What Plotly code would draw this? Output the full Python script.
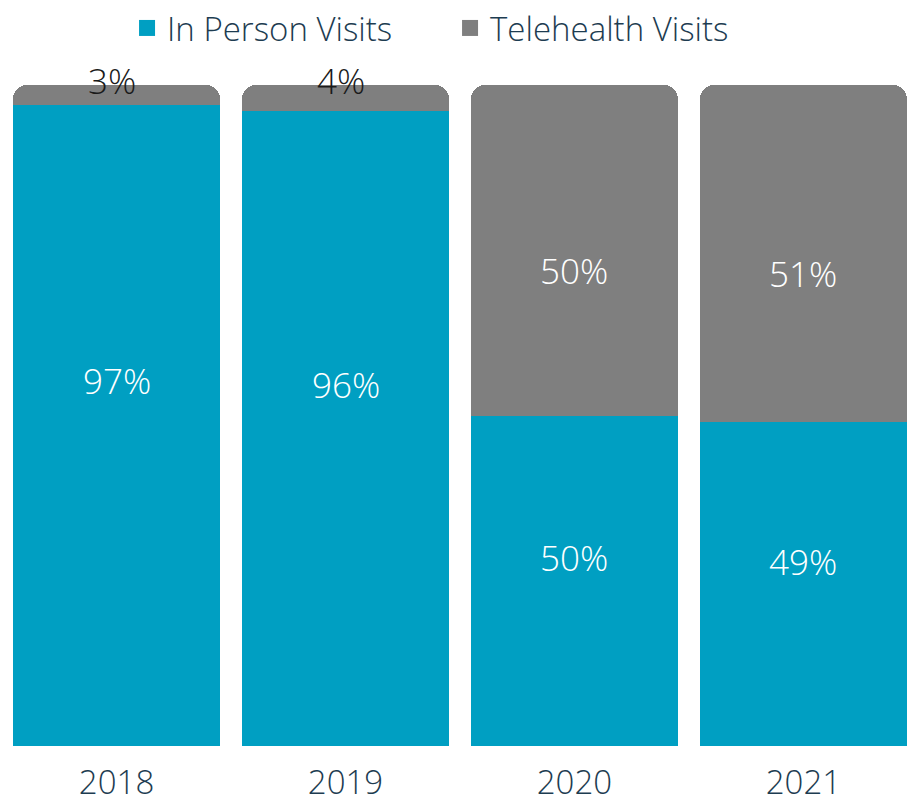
import plotly.graph_objects as go

# Share of visits by year
years = ["2018", "2019", "2020", "2021"]
in_person = [97, 96, 50, 49]
telehealth = [3, 4, 50, 51]

TEAL = "#009fc2"
GRAY = "#7f7f7f"
INK = "#1d3c51"
FONT = "Open Sans"
LIGHT = 300

fig = go.Figure()

fig.add_trace(go.Bar(
    x=years, y=in_person, name="In Person Visits",
    marker=dict(color=TEAL, line=dict(width=0)), showlegend=False,
))
fig.add_trace(go.Bar(
    x=years, y=telehealth, name="Telehealth Visits",
    marker=dict(color=GRAY, line=dict(width=0)), showlegend=False,
))

# legend entries with larger square swatches
for name, color in [("In Person Visits", TEAL), ("Telehealth Visits", GRAY)]:
    fig.add_trace(go.Scatter(
        x=[years[0]], y=[None], mode="markers", name=name,
        marker=dict(symbol="square", size=16, color=color),
    ))

# value labels on each segment
annotations = []
for i, (ip, th) in enumerate(zip(in_person, telehealth)):
    annotations.append(dict(
        x=i, y=ip * 0.57, text=f"{ip}%", showarrow=False,
        font=dict(family=FONT, size=35, color="white", weight=LIGHT),
    ))
    if th < 10:
        annotations.append(dict(
            x=i, y=ip + th, text=f"{th}%", showarrow=False, yanchor="middle",
            xshift=-5, yshift=5,
            font=dict(family=FONT, size=35, color="#1a1a1a", weight=LIGHT),
        ))
    else:
        annotations.append(dict(
            x=i, y=ip + th * 0.44, text=f"{th}%", showarrow=False,
            font=dict(family=FONT, size=35, color="white", weight=LIGHT),
        ))

fig.update_layout(
    width=914, height=810,
    margin=dict(l=0, r=0, t=85, b=64),
    barmode="stack", bargap=0.096, barcornerradius=14,
    plot_bgcolor="white", paper_bgcolor="white",
    font=dict(family=FONT, color=INK, weight=LIGHT),
    legend=dict(
        orientation="h", x=0.139, xanchor="left", y=1.0, yanchor="top",
        yref="container", font=dict(size=33, color=INK, weight=LIGHT),
        entrywidth=278, itemsizing="trace", traceorder="normal",
    ),
    xaxis=dict(
        type="category", range=[-0.509, 3.483], showgrid=False, zeroline=False,
        showline=False, ticks="", ticklabelstandoff=14,
        tickfont=dict(size=33, color=INK, weight=LIGHT),
    ),
    yaxis=dict(range=[0, 100], visible=False),
    annotations=annotations,
)

fig.write_html("out.html")
